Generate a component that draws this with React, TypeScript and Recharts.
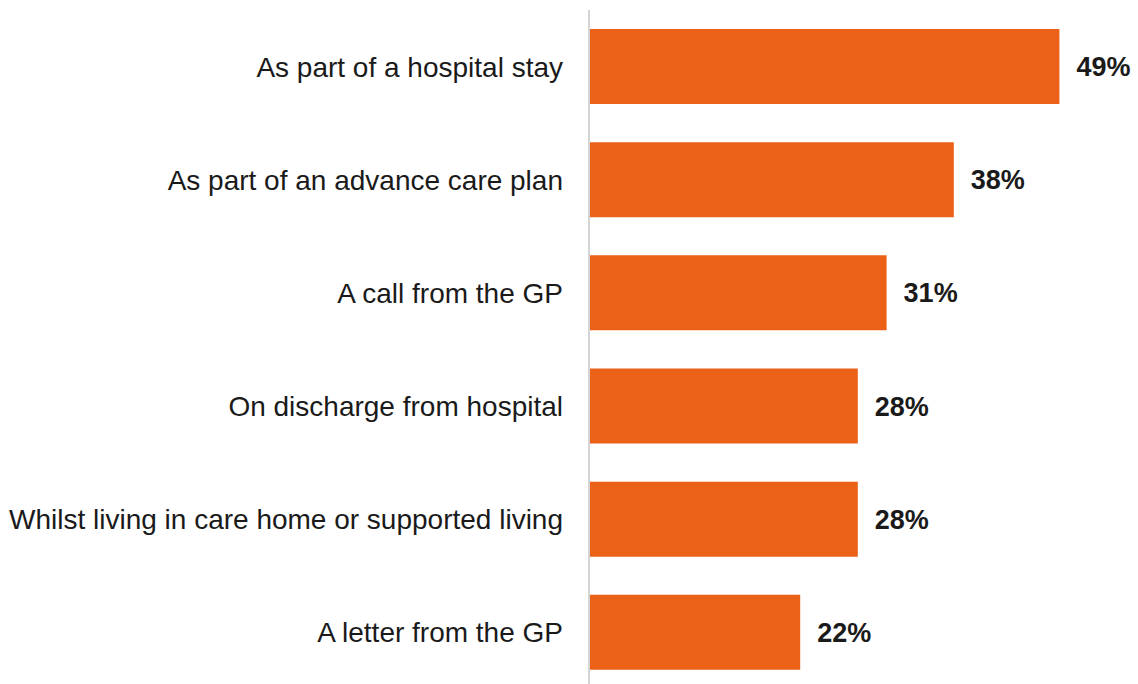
import { BarChart, Bar, XAxis, YAxis, LabelList } from 'recharts';

const categories = [
  'As part of a hospital stay',
  'As part of an advance care plan',
  'A call from the GP',
  'On discharge from hospital',
  'Whilst living in care home or supported living',
  'A letter from the GP',
];

const shares = [49, 38, 31, 28, 28, 22];

const data = categories.map((name, i) => ({ name, value: shares[i] }));

const FONT = '"Liberation Sans", Arial, sans-serif';

export default function App() {
  return (
    <div style={{ position: 'absolute', left: 0, top: 0, width: 1138, height: 684, overflow: 'hidden', background: '#fff' }}>
      <BarChart
        width={1138}
        height={689}
        data={data}
        layout="vertical"
        margin={{ top: 10, right: 69, bottom: 0, left: 0 }}
      >
        <XAxis type="number" domain={[0, 50]} hide />
        <YAxis
          dataKey="name"
          type="category"
          width={589}
          axisLine={{ stroke: '#d4d4d4', strokeWidth: 2 }}
          tickLine={false}
          tickSize={0}
          tickMargin={26}
          interval={0}
          tick={{ fontSize: 28, fill: '#1a1a1a', fontFamily: FONT }}
        />
        <Bar dataKey="value" fill="#EB6117" barSize={75} isAnimationActive={false}>
          <LabelList
            dataKey="value"
            position="right"
            offset={17}
            formatter={(v: number) => `${v}%`}
            style={{ fontSize: 27, fontWeight: 'bold', fill: '#1a1a1a', fontFamily: FONT }}
          />
        </Bar>
      </BarChart>
    </div>
  );
}
